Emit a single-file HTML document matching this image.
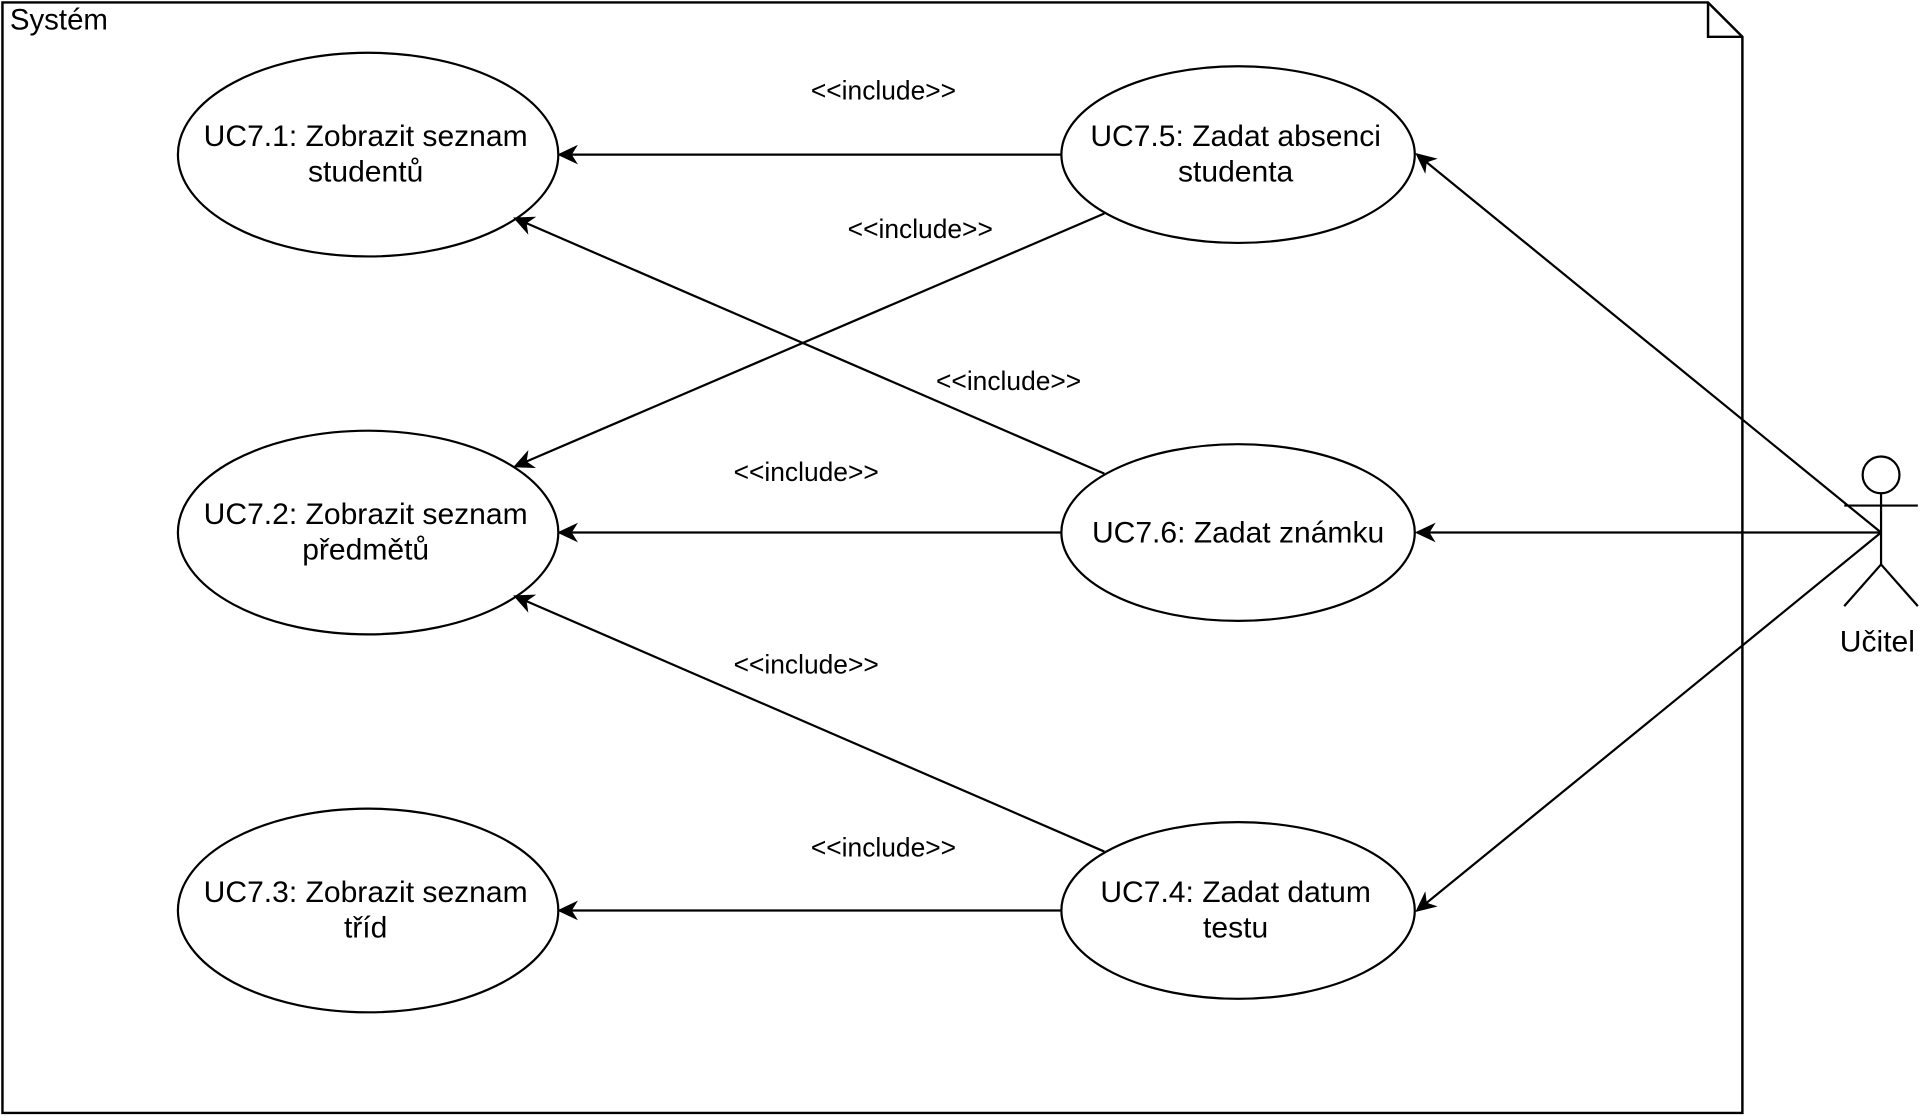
<!DOCTYPE html>
<html><head><meta charset="utf-8"><style>html,body{margin:0;padding:0;background:#fff}svg{display:block}</style></head>
<body>
<svg width="1924" height="1116" viewBox="0 0 1568 909.5" xmlns="http://www.w3.org/2000/svg" font-family="Liberation Sans, Arial, sans-serif">
<defs><marker id="a" markerWidth="18" markerHeight="16" refX="15" refY="8" orient="auto" markerUnits="userSpaceOnUse"><path d="M0,0 L17,8 L0,16 L5,8 Z" fill="#000"/></marker></defs>
<rect width="1568" height="910" fill="#fff"/>
<path d="M2,2 H1392 L1420,30 V907 H2 Z" fill="none" stroke="#000" stroke-width="2"/>
<path d="M1392,2 V30 H1420" fill="none" stroke="#000" stroke-width="2"/>
<text x="8" y="24" font-size="24">Systém</text>
<g fill="#fff" stroke="#000" stroke-width="1.8">
<ellipse cx="300" cy="126" rx="155" ry="83"/>
<ellipse cx="300" cy="434" rx="155" ry="83"/>
<ellipse cx="300" cy="742" rx="155" ry="83"/>
<ellipse cx="1009" cy="126" rx="144" ry="72"/>
<ellipse cx="1009" cy="434" rx="144" ry="72"/>
<ellipse cx="1009" cy="742" rx="144" ry="72"/>
</g>
<g stroke="#000" stroke-width="1.8" fill="none" marker-end="url(#a)">
<line x1="865" y1="126" x2="456" y2="126"/>
<line x1="900" y1="174" x2="420" y2="380"/>
<line x1="900" y1="386" x2="420" y2="178"/>
<line x1="865" y1="434" x2="456" y2="434"/>
<line x1="900" y1="694" x2="420" y2="486"/>
<line x1="865" y1="742" x2="456" y2="742"/>
<line x1="1533" y1="434" x2="1155" y2="126"/>
<line x1="1533" y1="434" x2="1155" y2="434"/>
<line x1="1533" y1="434" x2="1155" y2="742"/>
</g>
<g stroke="#000" stroke-width="1.8" fill="none">
<circle cx="1533" cy="387" r="15" fill="#fff"/>
<line x1="1533" y1="402" x2="1533" y2="460"/>
<line x1="1503" y1="412" x2="1563" y2="412"/>
<line x1="1533" y1="460" x2="1503" y2="494"/>
<line x1="1533" y1="460" x2="1563" y2="494"/>
</g>
<g font-size="24.5" text-anchor="middle">
<text x="298" y="119">UC7.1: Zobrazit seznam</text><text x="298" y="148">studentů</text>
<text x="298" y="427">UC7.2: Zobrazit seznam</text><text x="298" y="456">předmětů</text>
<text x="298" y="735">UC7.3: Zobrazit seznam</text><text x="298" y="764">tříd</text>
<text x="1007" y="119">UC7.5: Zadat absenci</text><text x="1007" y="148">studenta</text>
<text x="1009" y="442">UC7.6: Zadat známku</text>
<text x="1007" y="735">UC7.4: Zadat datum</text><text x="1007" y="764">testu</text>
<text x="1530" y="531">Učitel</text>
</g>
<g font-size="21.5" text-anchor="middle" fill="#000">
<rect x="760" y="300" width="124" height="22" fill="#fff"/>
<text x="720" y="81">&lt;&lt;include&gt;&gt;</text>
<text x="750" y="194">&lt;&lt;include&gt;&gt;</text>
<text x="822" y="318">&lt;&lt;include&gt;&gt;</text>
<text x="657" y="392">&lt;&lt;include&gt;&gt;</text>
<text x="657" y="549">&lt;&lt;include&gt;&gt;</text>
<text x="720" y="698">&lt;&lt;include&gt;&gt;</text>
</g>
</svg>
</body></html>
